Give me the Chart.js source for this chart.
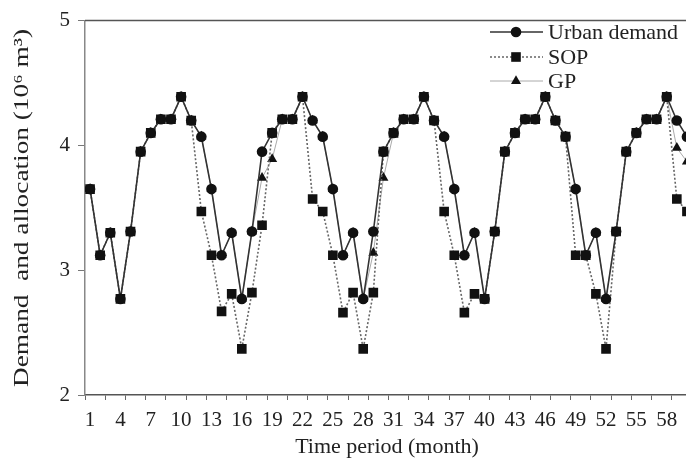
<!DOCTYPE html>
<html>
<head>
<meta charset="utf-8">
<script src="https://cdn.jsdelivr.net/npm/chart.js@4.4.0/dist/chart.umd.min.js"></script>
<style>
html,body{margin:0;padding:0;background:#fff;}
#wrap{width:686px;height:474px;overflow:hidden;position:relative;}
#inner{width:700px;height:474px;}
</style>
</head>
<body>
<div id="wrap"><div id="inner"><canvas id="c" width="700" height="474"></canvas></div></div>
<script>
const months = [1,2,3,4,5,6,7,8,9,10,11,12,13,14,15,16,17,18,19,20,21,22,23,24,25,26,27,28,29,30,
  31,32,33,34,35,36,37,38,39,40,41,42,43,44,45,46,47,48,49,50,51,52,53,54,55,56,57,58,59,60];
const urbanDemand = [3.65,3.12,3.30,2.77,3.31,3.95,4.10,4.21,4.21,4.39,4.20,4.07,
  3.65,3.12,3.30,2.77,3.31,3.95,4.10,4.21,4.21,4.39,4.20,4.07,
  3.65,3.12,3.30,2.77,3.31,3.95,4.10,4.21,4.21,4.39,4.20,4.07,
  3.65,3.12,3.30,2.77,3.31,3.95,4.10,4.21,4.21,4.39,4.20,4.07,
  3.65,3.12,3.30,2.77,3.31,3.95,4.10,4.21,4.21,4.39,4.20,4.07];
const sop = [3.65,3.12,3.30,2.77,3.31,3.95,4.10,4.21,4.21,4.39,4.20,3.47,
  3.12,2.67,2.81,2.37,2.82,3.36,4.10,4.21,4.21,4.39,3.57,3.47,
  3.12,2.66,2.82,2.37,2.82,3.95,4.10,4.21,4.21,4.39,4.20,3.47,
  3.12,2.66,2.81,2.77,3.31,3.95,4.10,4.21,4.21,4.39,4.20,4.07,
  3.12,3.12,2.81,2.37,3.31,3.95,4.10,4.21,4.21,4.39,3.57,3.47];
const gp = [3.65,3.12,3.30,2.77,3.31,3.95,4.10,4.21,4.21,4.39,4.20,4.07,
  3.65,3.12,3.30,2.77,3.31,3.74,3.89,4.21,4.21,4.39,4.20,4.07,
  3.65,3.12,3.30,2.77,3.14,3.74,4.10,4.21,4.21,4.39,4.20,4.07,
  3.65,3.12,3.30,2.77,3.31,3.95,4.10,4.21,4.21,4.39,4.20,4.07,
  3.65,3.12,3.30,2.77,3.31,3.95,4.10,4.21,4.21,4.39,3.98,3.87];
const xTickLabels = [1,4,7,10,13,16,19,22,25,28,31,34,37,40,43,46,49,52,55,58];
const yTickLabels = [2,3,4,5];
const seriesNames = ['Urban demand','SOP','GP'];
const xTitle = 'Time period (month)';
const yTitle = 'Demand  and allocation (10\u2076 m\u00B3)';

const FONT = '"Liberation Serif","DejaVu Serif",serif';
const markColor = '#111';

function drawMarker(ctx, style, x, y, r){
  ctx.beginPath();
  if(style==='circle'){ ctx.arc(x,y,r,0,Math.PI*2); }
  else if(style==='rect'){ const s=r*Math.SQRT1_2; ctx.rect(x-s,y-s,2*s,2*s); }
  else { ctx.moveTo(x, y-r); ctx.lineTo(x+r*0.866, y+r*0.5); ctx.lineTo(x-r*0.866, y+r*0.5); ctx.closePath(); }
  ctx.fillStyle=markColor; ctx.fill();
}

const deco = {
  id:'deco',
  afterDraw(chart){
    const ctx = chart.ctx, a = chart.chartArea;
    ctx.save();
    ctx.strokeStyle='#555'; ctx.lineWidth=1.5;
    ctx.beginPath(); ctx.moveTo(a.left, a.top); ctx.lineTo(a.right+10, a.top); ctx.stroke();
    ctx.fillStyle='#222';
    ctx.font='22px '+FONT; ctx.textAlign='center'; ctx.textBaseline='middle';
    ctx.fillText(xTitle, 387, 447);
    ctx.save();
    ctx.translate(22, 208); ctx.rotate(-Math.PI/2);
    const w = ctx.measureText(yTitle).width;
    ctx.scale(358/w, 1);
    ctx.fillText(yTitle, 0, 0);
    ctx.restore();
    const ds = chart.data.datasets;
    const rows = [32, 57, 81];
    ds.forEach((d,i)=>{
      const y = rows[i];
      ctx.save();
      ctx.strokeStyle = d.borderColor; ctx.lineWidth = d.borderWidth;
      ctx.setLineDash(d.borderDash || []);
      ctx.beginPath(); ctx.moveTo(490, y); ctx.lineTo(543, y); ctx.stroke();
      ctx.restore();
      drawMarker(ctx, d.pointStyle, 516, y, d.pointRadius);
      ctx.fillStyle='#222'; ctx.font='22px '+FONT; ctx.textAlign='left'; ctx.textBaseline='middle';
      ctx.fillText(d.label, 548, y+1);
    });
    ctx.restore();
  }
};

const xMarks = [];
for(let v=0.5; v<=60.5; v+=2) xMarks.push(v);

new Chart(document.getElementById('c'), {
  type:'line',
  data:{
    labels: months,
    datasets:[
      {label:seriesNames[0], data:urbanDemand, borderColor:'#333', borderWidth:1.6,
       pointStyle:'circle', pointRadius:5.3, pointBackgroundColor:markColor, pointBorderColor:markColor, pointBorderWidth:0, order:1},
      {label:seriesNames[1], data:sop, borderColor:'#666', borderWidth:1.6, borderDash:[2,2],
       pointStyle:'rect', pointRadius:6.8, pointBackgroundColor:markColor, pointBorderColor:markColor, pointBorderWidth:0, order:2},
      {label:seriesNames[2], data:gp, borderColor:'#aaa', borderWidth:1,
       pointStyle:'triangle', pointRadius:5.8, pointBackgroundColor:markColor, pointBorderColor:markColor, pointBorderWidth:0, order:3}
    ]
  },
  options:{
    responsive:false, animation:false, devicePixelRatio:1,
    layout:{padding:{top:17,left:0,right:6.4,bottom:0}},
    plugins:{legend:{display:false}, tooltip:{enabled:false}},
    elements:{line:{tension:0}},
    scales:{
      x:{
        type:'linear', min:0.5, max:60.5,
        afterBuildTicks(s){
          const vals = xMarks.concat(xTickLabels).sort((p,q)=>p-q);
          s.ticks = vals.map(v=>({value:v}));
        },
        afterFit(s){ s.height = 79; },
        ticks:{autoSkip:false, maxRotation:0, minRotation:0, padding:8, color:'#222',
          font:{family:FONT, size:21},
          callback(v){ return xTickLabels.includes(v) ? String(v) : ''; }},
        grid:{drawOnChartArea:false, drawTicks:true, tickLength:5,
          tickColor(ctx){ return (ctx.tick && xMarks.includes(ctx.tick.value)) ? '#666' : 'rgba(0,0,0,0)'; }},
        border:{color:'#555', width:1.5}
      },
      y:{
        min:2, max:5,
        afterBuildTicks(s){ s.ticks = yTickLabels.map(v=>({value:v})); },
        afterFit(s){ s.width = 85; },
        ticks:{padding:8, color:'#222', font:{family:FONT, size:21}},
        grid:{drawOnChartArea:false, drawTicks:true, tickLength:7, tickColor:'#777'},
        border:{color:'#888', width:1.5}
      }
    }
  },
  plugins:[deco]
});
</script>
</body>
</html>
